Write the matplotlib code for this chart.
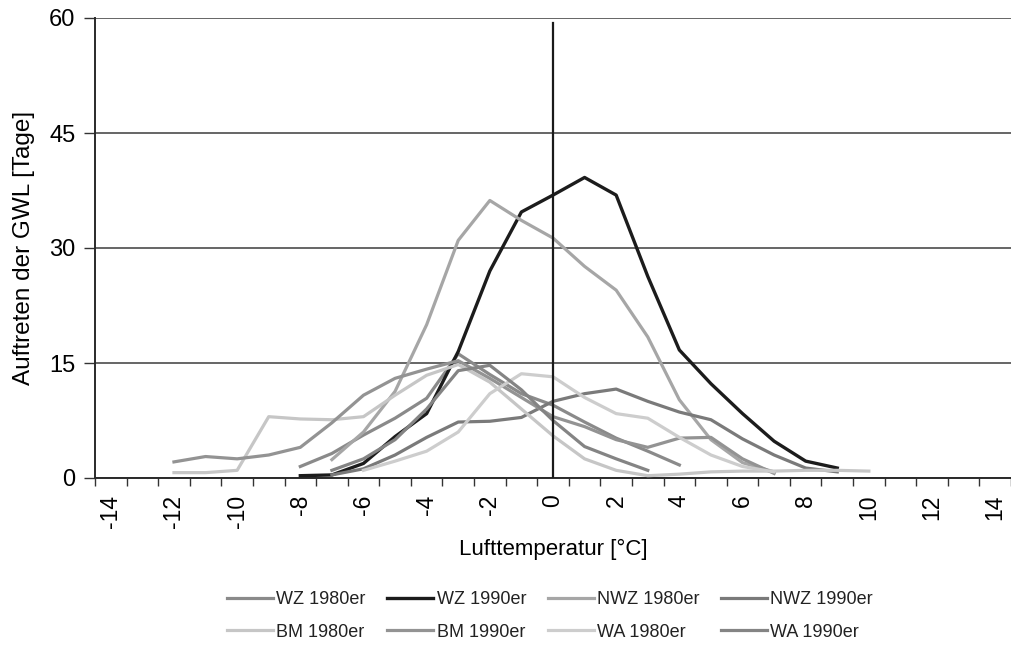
import matplotlib
matplotlib.use("Agg")
import matplotlib.pyplot as plt
import numpy as np

plt.rcParams['font.family'] = ['Liberation Sans', 'DejaVu Sans']

# ---- data ----
temps_tick_labels = list(range(-14, 15, 2))

wz80_x = list(range(-8, 5))
wz80_y = [1.5, 3.2, 5.6, 7.8, 10.4, 16.2, 13.5, 11.0, 9.5, 7.3, 5.2, 3.5, 1.7]

wz90_x = list(range(-8, 10))
wz90_y = [0.3, 0.4, 1.9, 5.4, 8.4, 16.5, 27.0, 34.7, 36.9, 39.2, 36.9, 26.3, 16.7, 12.3, 8.4, 4.8, 2.2, 1.3]

nwz80_x = list(range(-7, 8))
nwz80_y = [2.4, 6.0, 11.3, 20.0, 31.0, 36.2, 33.6, 31.3, 27.6, 24.5, 18.4, 10.2, 5.0, 2.0, 0.8]

nwz90_x = list(range(-7, 10))
nwz90_y = [0.4, 1.2, 3.0, 5.3, 7.3, 7.4, 7.9, 10.0, 11.0, 11.6, 10.0, 8.6, 7.6, 5.1, 3.0, 1.3, 0.8]

bm80_x = list(range(-12, 11))
bm80_y = [0.7, 0.7, 1.0, 8.0, 7.7, 7.6, 8.0, 10.8, 13.4, 14.8, 12.5, 9.0, 5.5, 2.5, 1.0, 0.3, 0.5, 0.8, 0.9, 0.9, 1.0, 1.0, 0.9]

bm90_x = list(range(-12, 8))
bm90_y = [2.1, 2.8, 2.5, 3.0, 4.0, 7.2, 10.8, 13.0, 14.2, 15.3, 13.0, 10.5, 8.0, 6.7, 5.0, 4.0, 5.2, 5.3, 2.5, 0.6]

wa80_x = list(range(-6, 8))
wa80_y = [1.0, 2.2, 3.5, 6.0, 11.0, 13.6, 13.2, 10.5, 8.4, 7.8, 5.3, 3.0, 1.5, 0.8]

wa90_x = list(range(-7, 4))
wa90_y = [1.0, 2.5, 5.0, 9.0, 14.0, 14.7, 11.5, 7.5, 4.1, 2.5, 1.0]

series = [
    ("WZ 1980er", wz80_x, wz80_y, "#8a8a8a", 2.3),
    ("WZ 1990er", wz90_x, wz90_y, "#1c1c1c", 2.4),
    ("NWZ 1980er", nwz80_x, nwz80_y, "#a6a6a6", 2.3),
    ("NWZ 1990er", nwz90_x, nwz90_y, "#7a7a7a", 2.3),
    ("BM 1980er", bm80_x, bm80_y, "#c6c6c6", 2.3),
    ("BM 1990er", bm90_x, bm90_y, "#939393", 2.3),
    ("WA 1980er", wa80_x, wa80_y, "#cdcdcd", 2.3),
    ("WA 1990er", wa90_x, wa90_y, "#848484", 2.3),
]

fig = plt.figure(figsize=(10.11, 6.45), dpi=100)
ax = fig.add_axes([95/1011, 1-478/645, (1011-95)/1011, (478-18)/645])

for name, xs, ys, col, lw in series:
    ax.plot(xs, ys, color=col, lw=lw, label=name, solid_joinstyle='round', zorder=3)

ax.set_xlim(-14.5, 14.5)
ax.set_ylim(0, 60)

ax.set_yticks([0, 15, 30, 45, 60])
ax.yaxis.grid(True, color="#3c3c3c", lw=1.1, zorder=1)
ax.set_axisbelow(True)
ax.axvline(0, ymin=0, ymax=59.3/60, color="#1a1a1a", lw=1.6, zorder=4)

ax.set_xticks(temps_tick_labels)
ax.set_xticklabels([str(t) for t in temps_tick_labels], rotation=90, fontsize=16.5)
ax.tick_params(axis='x', which='major', length=0, pad=12)
ax.set_xticks(np.arange(-14.5, 15, 1.0), minor=True)
ax.tick_params(axis='x', which='minor', length=6, width=1, color="#333333", direction='out')
ax.tick_params(axis='y', length=8, width=1, color="#333333", labelsize=17, pad=6)

for s in ['top', 'right']:
    ax.spines[s].set_visible(False)
for s in ['left', 'bottom']:
    ax.spines[s].set_color("#2a2a2a")
    ax.spines[s].set_linewidth(1.4)

ax.set_xlabel("Lufttemperatur [°C]", fontsize=16, labelpad=8)
ax.set_ylabel("Auftreten der GWL [Tage]", fontsize=17.5, labelpad=10)

handles, labels = ax.get_legend_handles_labels()
order = [0, 4, 1, 5, 2, 6, 3, 7]
leg = fig.legend([handles[i] for i in order], [labels[i] for i in order],
                 loc='center', bbox_to_anchor=(550/1011, 1-616/645),
                 ncol=4, frameon=False, fontsize=13, handlelength=2.55,
                 handletextpad=0.17, columnspacing=1.2, labelspacing=0.85)
for t in leg.get_texts():
    t.set_color("#222222")

fig.savefig("out.png", dpi=100, facecolor="white")
